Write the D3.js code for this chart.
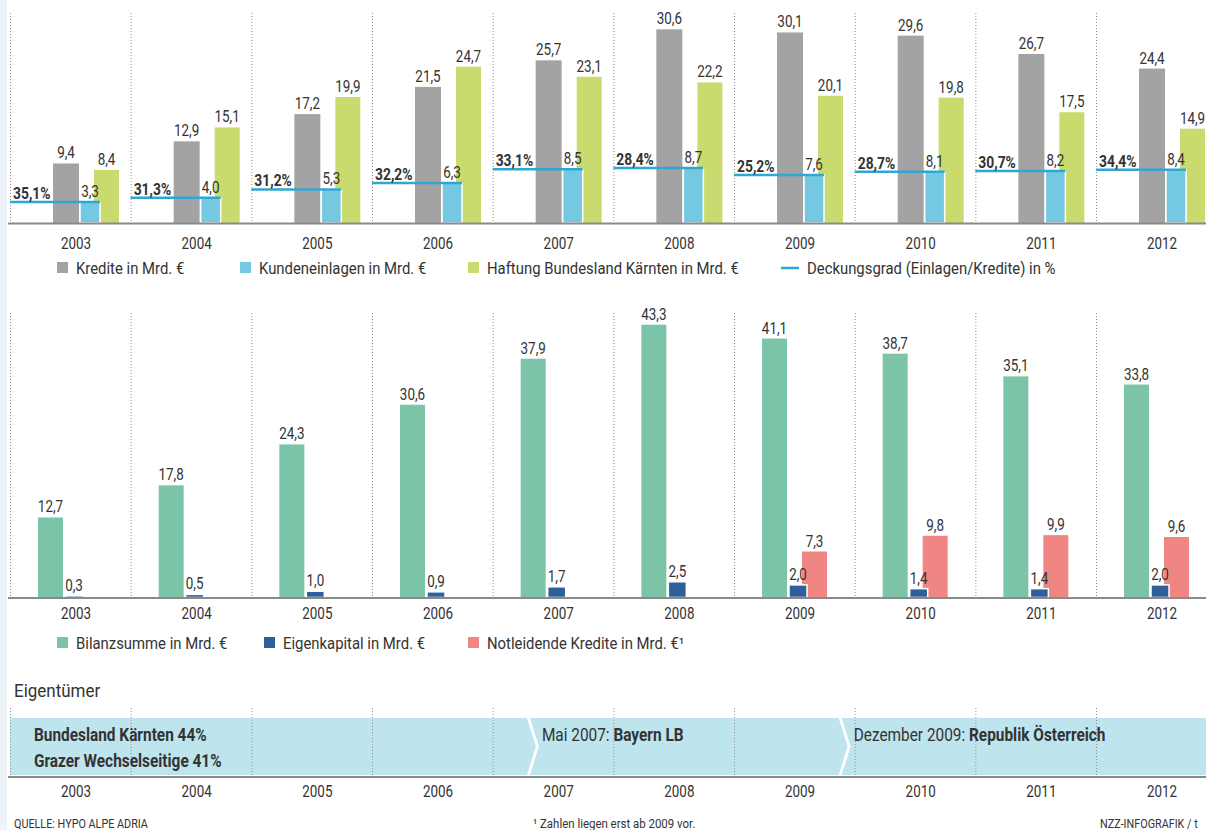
<!DOCTYPE html>
<html>
<head>
<meta charset="utf-8">
<script src="https://cdn.jsdelivr.net/npm/d3@7"></script>
<style>
  html, body { margin: 0; padding: 0; background: #fff; }
  svg { display: block; }
  text { font-family: Roboto, "DejaVu Sans Condensed", sans-serif; fill: #333; }
</style>
</head>
<body>
<svg id="chart" width="1206" height="830"></svg>
<script>
// ---------- data ----------
const years = [2003, 2004, 2005, 2006, 2007, 2008, 2009, 2010, 2011, 2012];
const kredite = [9.4, 12.9, 17.2, 21.5, 25.7, 30.6, 30.1, 29.6, 26.7, 24.4];
const kundeneinlagen = [3.3, 4.0, 5.3, 6.3, 8.5, 8.7, 7.6, 8.1, 8.2, 8.4];
const haftung = [8.4, 15.1, 19.9, 24.7, 23.1, 22.2, 20.1, 19.8, 17.5, 14.9];
const deckungsgrad = [35.1, 31.3, 31.2, 32.2, 33.1, 28.4, 25.2, 28.7, 30.7, 34.4];
const bilanzsumme = [12.7, 17.8, 24.3, 30.6, 37.9, 43.3, 41.1, 38.7, 35.1, 33.8];
const eigenkapital = [0.3, 0.5, 1.0, 0.9, 1.7, 2.5, 2.0, 1.4, 1.4, 2.0];
const notleidend = [null, null, null, null, null, null, 7.3, 9.8, 9.9, 9.6];

const legendTop = ["Kredite in Mrd. €", "Kundeneinlagen in Mrd. €", "Haftung Bundesland Kärnten in Mrd. €", "Deckungsgrad (Einlagen/Kredite) in %"];
const legendBottom = ["Bilanzsumme in Mrd. €", "Eigenkapital in Mrd. €", "Notleidende Kredite in Mrd. €¹"];

const ownerYears = [2003, 2007, 2009];
const ownerMonths = [1, 5, 12];
const ownerPrefix = ["", "Mai 2007: ", "Dezember 2009: "];
const ownerNames = [["Bundesland Kärnten 44%", "Grazer Wechselseitige 41%"], ["Bayern LB"], ["Republik Österreich"]];

const sourceText = "QUELLE: HYPO ALPE ADRIA";
const footnoteText = "¹ Zahlen liegen erst ab 2009 vor.";
const creditText = "NZZ-INFOGRAFIK / t";

// ---------- setup ----------
const svg = d3.select("#chart");
const loc = d3.formatLocale({decimal: ",", thousands: ".", grouping: [3], currency: ["", "€"]});
const f1 = loc.format(".1f");

const C = {
  gray: "#a3a3a3", lblue: "#74c8e1", lgreen: "#c9da6f", line: "#2ea7d3",
  green: "#7cc4a8", dblue: "#2f5f98", red: "#f08683", tl: "#bee4ee", axis: "#8a8a8a"
};

function ct(sel, tx, ty, sx) { // condensed text transform
  const s = sx || 0.82;
  return sel.attr("transform", (d, i) => {
    const X = typeof tx === "function" ? tx(d, i) : tx;
    const Y = typeof ty === "function" ? ty(d, i) : ty;
    return `translate(${X},${Y}) scale(${s},1)`;
  });
}
function label(parent, tx, ty, str, size, sx, weight) {
  const t = parent.append("text").attr("font-size", size).attr("font-weight", weight || "normal").text(str);
  ct(t, tx, ty, sx);
  return t;
}

svg.append("rect").attr("x", 0).attr("y", 0).attr("width", 7).attr("height", 830).attr("fill", "#edf3f7");

const x = d3.scaleBand().domain(years).range([10, 10 + 120.67 * years.length]).padding(0);
const bw = x.bandwidth();

const yTop = d3.scaleLinear().domain([0, 35]).range([223, 223 - 35 * 6.33]);
const yBot = d3.scaleLinear().domain([0, 45]).range([597.5, 597.5 - 45 * 6.3]);

function separators(y1, y2) {
  svg.append("g").selectAll("line").data(years).join("line")
    .attr("x1", d => x(d) + 0.5).attr("x2", d => x(d) + 0.5)
    .attr("y1", y1).attr("y2", y2)
    .attr("stroke", "#8f8f8f").attr("stroke-width", 1).attr("stroke-dasharray", "1,2");
}
function baseline(y) {
  svg.append("line").attr("x1", 8).attr("x2", 1206).attr("y1", y).attr("y2", y)
    .attr("stroke", C.axis).attr("stroke-width", 2);
}
function yearLabels(yb) {
  const t = svg.append("g").selectAll("text").data(years).join("text")
    .attr("text-anchor", "middle").attr("font-size", 16).text(d => d);
  ct(t, d => x(d) + 66, yb, 0.84);
}
function bars(vals, y, x0, w, color, stroke) {
  const g = svg.append("g");
  const data = years.map((yr, i) => ({yr, v: vals[i]})).filter(d => d.v != null);
  g.selectAll("rect").data(data).join("rect")
    .attr("x", d => x(d.yr) + x0).attr("width", w)
    .attr("y", d => y(d.v)).attr("height", d => y(0) - y(d.v))
    .attr("fill", color)
    .attr("stroke", stroke ? "#fff" : null).attr("stroke-width", stroke ? 1.5 : null);
  return data;
}
function valueLabels(data, y, xc) {
  const t = svg.append("g").selectAll("text").data(data).join("text")
    .attr("text-anchor", "middle").attr("font-size", 16).text(d => f1(d.v));
  ct(t, d => x(d.yr) + xc, d => y(d.v) - 5, 0.84);
}

// ---------- top chart ----------
separators(13, 223);
const dKred = bars(kredite, yTop, 43, 26, C.gray);
const dHaft = bars(haftung, yTop, 84, 25, C.lgreen);
const dEinl = bars(kundeneinlagen, yTop, 70, 20, C.lblue, true);
const cov = years.map((yr, i) => ({yr, v: kundeneinlagen[i], p: deckungsgrad[i]}));
svg.append("g").selectAll("line").data(cov).join("line")
  .attr("x1", d => x(d.yr)).attr("x2", d => x(d.yr) + 90)
  .attr("y1", d => yTop(d.v)).attr("y2", d => yTop(d.v))
  .attr("stroke", C.line).attr("stroke-width", 2.5);
baseline(223.5);
valueLabels(dKred, yTop, 56);
valueLabels(dHaft, yTop, 96.5);
valueLabels(dEinl, yTop, 80);
const pct = svg.append("g").selectAll("text").data(cov).join("text")
  .attr("font-size", 16.5).attr("font-weight", "bold").attr("fill", "#2a2a2a")
  .text(d => f1(d.p) + "%");
ct(pct, d => x(d.yr) + 3, d => yTop(d.v) - 3, 0.84);
yearLabels(249);

// top legend
const LS = 0.93;
const lt = svg.append("g");
const ltX = [57, 240, 468];
const ltC = [C.gray, C.lblue, C.lgreen];
ltX.forEach((lx, i) => {
  lt.append("rect").attr("x", lx).attr("y", 262).attr("width", 11).attr("height", 11).attr("fill", ltC[i]);
  label(lt, lx + 19, 274, legendTop[i], 16, LS);
});
lt.append("line").attr("x1", 781).attr("x2", 799).attr("y1", 268).attr("y2", 268).attr("stroke", C.line).attr("stroke-width", 2.5);
label(lt, 807, 274, legendTop[3], 16, LS);

// ---------- bottom chart ----------
separators(313, 597);
const dBil = bars(bilanzsumme, yBot, 28, 25, C.green);
const dNot = bars(notleidend, yBot, 68, 25, C.red);
const dEig = bars(eigenkapital, yBot, 55, 18, C.dblue, true);
baseline(598);
valueLabels(dBil, yBot, 40.5);
valueLabels(dNot, yBot, 80.5);
valueLabels(dEig, yBot, 64);
yearLabels(619);

const lb = svg.append("g");
const lbX = [57, 264, 468];
const lbC = [C.green, C.dblue, C.red];
lbX.forEach((lx, i) => {
  lb.append("rect").attr("x", lx).attr("y", 637).attr("width", 11).attr("height", 11).attr("fill", lbC[i]);
  label(lb, lx + 19, 649, legendBottom[i], 16, LS);
});

// ---------- owners timeline ----------
label(svg, 14, 697, "Eigentümer", 17.5, 0.97);
const tTop = 718, tBot = 775, tMid = (tTop + tBot) / 2;
const bx = ownerYears.map((yr, i) => i === 0 ? 10 : x(yr) + (ownerMonths[i] - 1) / 12 * bw);
const tg = svg.append("g");
ownerYears.forEach((yr, i) => {
  const last = i === ownerYears.length - 1;
  const xs = bx[i];
  const xe = last ? 1216 : bx[i + 1];
  const left = i === 0 ? [[xs, tBot], [xs, tTop]] : [[xs - 3, tBot], [xs + 6, tMid], [xs - 3, tTop]];
  const right = last ? [[xe, tTop], [xe, tBot]] : [[xe - 6, tTop], [xe + 3, tMid], [xe - 6, tBot]];
  const pts = left.concat(right);
  tg.append("polygon").attr("points", pts.map(p => p.join(",")).join(" ")).attr("fill", C.tl);
});
separators(708, 778);
baseline(777);
yearLabels(797);
ownerYears.forEach((yr, i) => {
  const tx = i === 0 ? 34 : bx[i] + 9;
  ownerNames[i].forEach((nm, j) => {
    const t = svg.append("text").attr("font-size", 17.5).attr("fill", "#222");
    ct(t, tx, 741 + j * 26, 0.88);
    if (ownerPrefix[i]) t.append("tspan").attr("font-weight", "normal").text(ownerPrefix[i]);
    t.append("tspan").attr("font-weight", "bold").text(nm);
  });
});

// ---------- footer ----------
label(svg, 14, 828, sourceText, 12, 0.9).attr("fill", "#444");
label(svg, 533, 828, footnoteText, 13, 0.88).attr("fill", "#444");
label(svg, 1100, 828, creditText, 12, 0.9).attr("fill", "#444");
</script>
</body>
</html>
